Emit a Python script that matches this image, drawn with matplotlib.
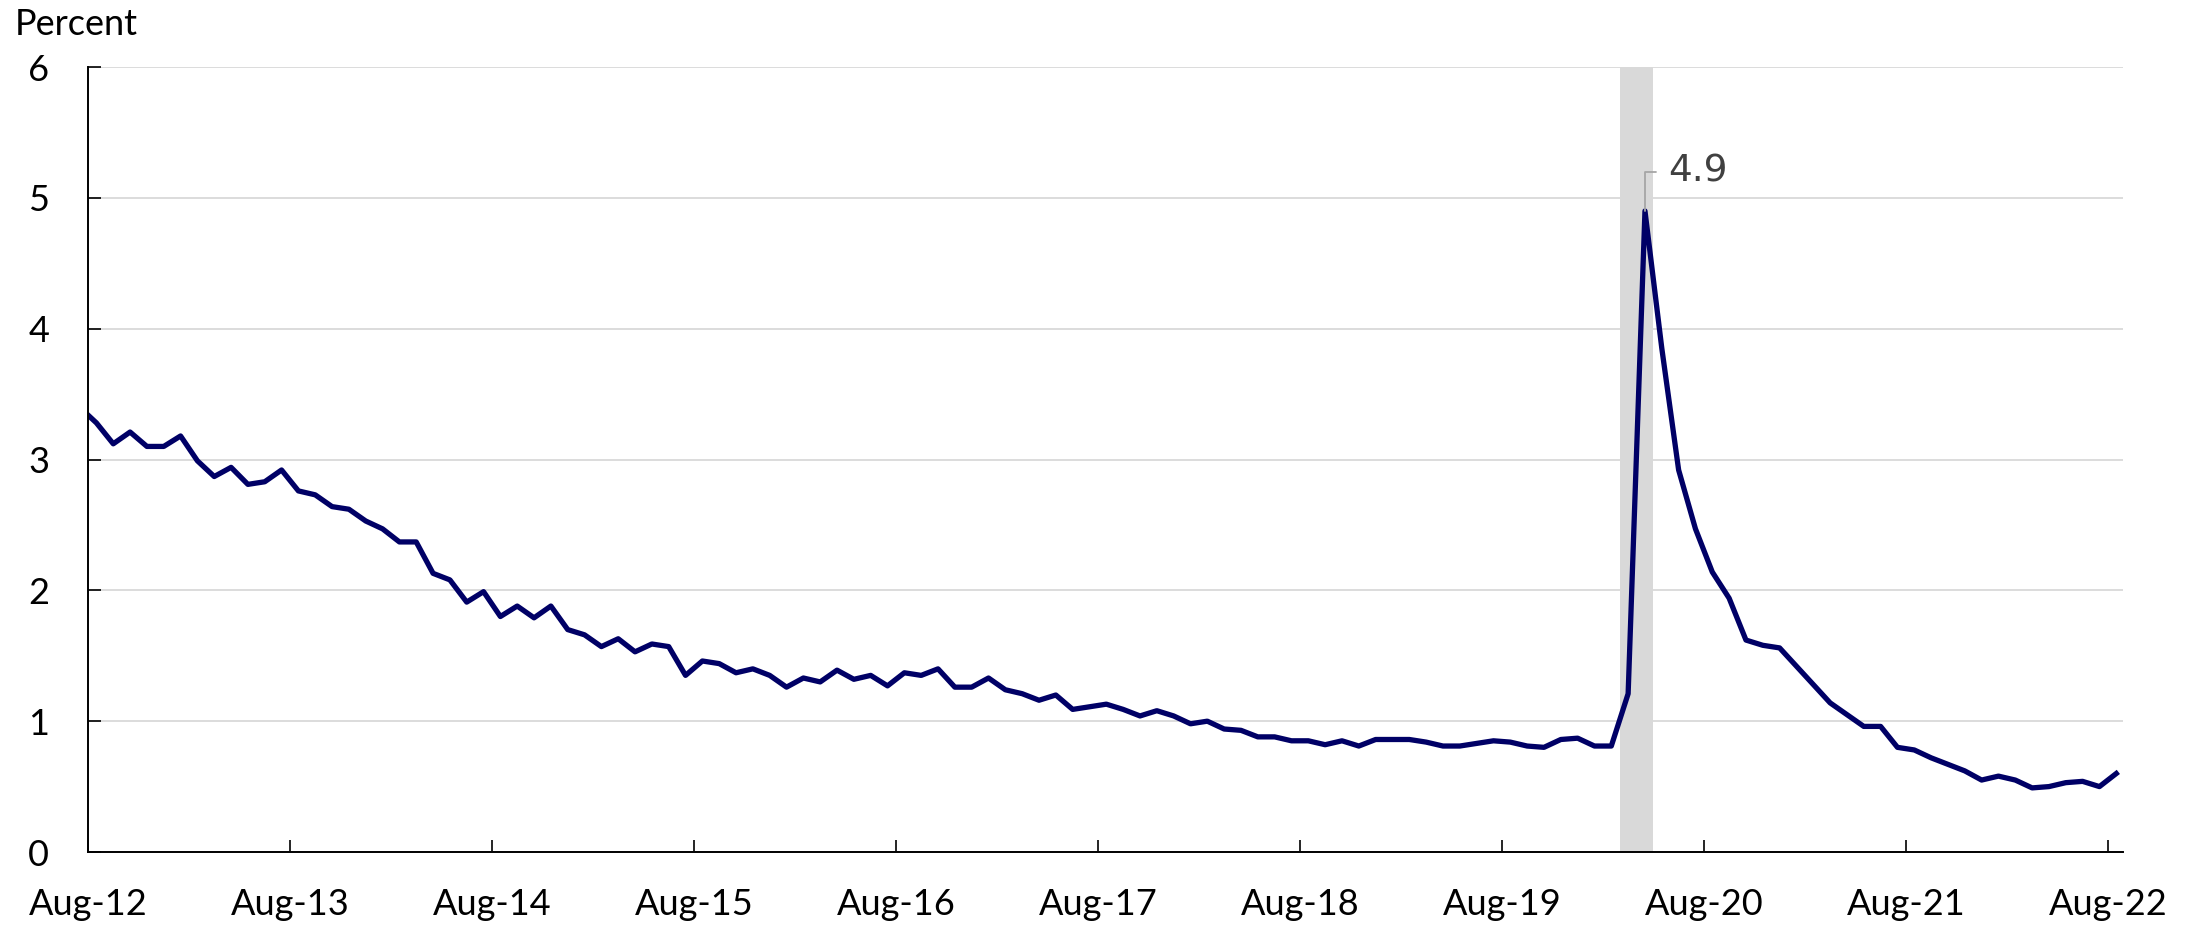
import numpy as np
import pandas as pd
import matplotlib
matplotlib.use('Agg')
import matplotlib.pyplot as plt

# monthly rate, Jul-12 .. Aug-22 (Jul-12 sits left of the axis and is clipped)
months = pd.period_range('2012-07', '2022-08', freq='M')
rate = [3.40,
        3.28, 3.12, 3.21, 3.10, 3.10, 3.18, 2.99, 2.87, 2.94, 2.81, 2.83, 2.92,
        2.76, 2.73, 2.64, 2.62, 2.53, 2.47, 2.37, 2.37, 2.13, 2.08, 1.91, 1.99,
        1.80, 1.88, 1.79, 1.88, 1.70, 1.66, 1.57, 1.63, 1.53, 1.59, 1.57, 1.35,
        1.46, 1.44, 1.37, 1.40, 1.35, 1.26, 1.33, 1.30, 1.39, 1.32, 1.35, 1.27,
        1.37, 1.35, 1.40, 1.26, 1.26, 1.33, 1.24, 1.21, 1.16, 1.20, 1.09, 1.11,
        1.13, 1.09, 1.04, 1.08, 1.04, 0.98, 1.00, 0.94, 0.93, 0.88, 0.88, 0.85,
        0.85, 0.82, 0.85, 0.81, 0.86, 0.86, 0.86, 0.84, 0.81, 0.81, 0.83, 0.85,
        0.84, 0.81, 0.80, 0.86, 0.87, 0.81, 0.81, 1.21, 4.90, 3.85, 2.92, 2.47,
        2.14, 1.94, 1.62, 1.58, 1.56, 1.42, 1.28, 1.14, 1.05, 0.96, 0.96, 0.80,
        0.78, 0.72, 0.67, 0.62, 0.55, 0.58, 0.55, 0.49, 0.50, 0.53, 0.54, 0.50,
        0.60]
recession = ['2020-03', '2020-04']
tick_labels = ['Aug-12', 'Aug-13', 'Aug-14', 'Aug-15', 'Aug-16', 'Aug-17',
               'Aug-18', 'Aug-19', 'Aug-20', 'Aug-21', 'Aug-22']

base = pd.Period('2012-08', 'M')
x = np.array([(m - base).n for m in months]) + 0.5
rate = np.array(rate)

plt.rcParams['font.family'] = ['Lato', 'DejaVu Sans']

fig = plt.figure(figsize=(22, 9.27), dpi=100)
ax = fig.add_axes([0.04, 0.0809, 0.925, 0.8468])

r0 = (pd.Period(recession[0], 'M') - base).n
r1 = (pd.Period(recession[-1], 'M') - base).n + 1
ax.axvspan(r0, r1, color='#d9d9d9', lw=0, zorder=1)

ax.plot(x, rate, color='#000066', lw=3.8, zorder=3, solid_joinstyle='round')

ax.set_xlim(0, 120.9)
ax.set_ylim(0, 6)
ax.set_yticks(range(7))
ax.set_xticks(range(0, 121, 12))
ax.set_xticklabels(tick_labels)
ax.yaxis.grid(True, color='#d9d9d9', lw=1.3, zorder=0)
ax.set_axisbelow(True)

for s in ['top', 'right']:
    ax.spines[s].set_visible(False)
for s in ['left', 'bottom']:
    ax.spines[s].set_linewidth(1.4)
    ax.spines[s].set_zorder(4)

ax.tick_params(axis='both', direction='in', length=9, width=1.2,
               labelsize=26, colors='black')
ax.tick_params(axis='y', pad=28)
ax.tick_params(axis='x', pad=26)

fig.text(15 / 2200, 1 - 35 / 927, 'Percent', fontsize=26, va='baseline', ha='left')

i = int(np.argmax(rate))
ax.annotate(f'{rate[i]:.1f}', xy=(x[i], rate[i]), xytext=(x[i] + 1.4, 5.2),
            fontsize=27, color='#404040', family='DejaVu Sans',
            ha='left', va='center',
            arrowprops=dict(arrowstyle='-', color='#a6a6a6', lw=1.3,
                            connectionstyle='angle,angleA=0,angleB=90,rad=0',
                            shrinkA=7, shrinkB=0))

fig.savefig('out.png', dpi=100)
